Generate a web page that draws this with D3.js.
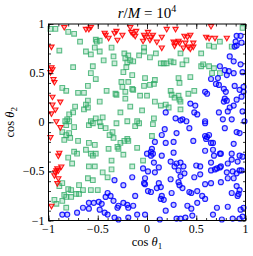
<!DOCTYPE html>
<html>
<head>
<meta charset="utf-8">
<script src="https://cdn.jsdelivr.net/npm/d3@7"></script>
<style>
  body { margin: 0; background: #fff; }
  text { font-family: "Liberation Serif", "DejaVu Serif", serif; }
</style>
</head>
<body>
<div id="chart"></div>
<script>
// cos theta1, cos theta2 pairs
var redPts = [
  [-0.84,0.97],[-0.62,0.95],[-0.57,0.97],[-0.59,0.95],[-0.43,0.91],[-0.39,0.86],[-0.42,0.89],[-0.33,0.91],
  [-0.30,0.84],[-0.97,0.77],[-0.97,0.56],[-0.96,0.54],[-0.98,0.51],[-0.95,0.44],[-0.94,0.41],[-0.96,0.26],
  [-0.88,0.21],[-0.96,0.18],[-0.93,0.13],[-0.97,0.09],[-0.92,0.01],[-0.88,-0.05],[-0.98,-0.15],[-0.89,-0.31],
  [-0.90,-0.34],[-0.87,-0.45],[-0.91,-0.47],[-0.92,-0.49],[-0.93,-0.51],[-0.94,-0.54],[-0.90,-0.49],[-0.90,-0.57],
  [-0.91,-0.62],[-0.97,-0.85],
  [-0.31,0.93],[-0.25,0.89],[-0.17,0.97],[-0.16,0.92],[-0.14,0.90],[-0.12,0.88],[-0.11,0.93],[-0.03,0.89],
  [-0.02,0.87],[0.01,0.92],[0.04,0.87],[0.06,0.89],[0.03,0.84],[-0.04,0.83],[0.10,0.82],[0.15,0.87],
  [0.15,0.76],[0.20,0.95],[0.29,0.95],[0.27,0.82],[0.28,0.78],[0.29,0.81],[0.32,0.83],
  [0.65,0.98],[0.38,0.88],[0.41,0.87],[0.44,0.89],[0.60,0.87],[0.63,0.86],[0.69,0.86],[0.33,0.81],
  [0.39,0.81],[0.47,0.81],[0.42,0.77],[0.44,0.75],[0.47,0.77],[0.37,0.76],[0.81,0.86]
];

var greenPts = [
  [-0.98,0.95],[-0.93,0.95],[-0.80,0.92],[-0.74,0.90],[-0.68,0.82],[-0.52,0.84],[-0.48,0.83],[-0.51,0.82],
  [-0.89,0.73],[-0.53,0.76],[-0.62,0.72],[-0.57,0.69],[-0.48,0.72],[-0.36,0.76],[-0.34,0.67],[-0.33,0.60],
  [-0.44,0.63],[-0.75,0.56],[-0.55,0.57],[-0.57,0.50],[-0.52,0.44],[-0.60,0.37],[-0.86,0.35],[-0.82,0.32],
  [-0.70,0.30],[-0.64,0.30],[-0.41,0.32],[-0.32,0.29],[-0.60,0.22],[-0.62,0.18],[-0.60,0.15],[-0.64,0.13],
  [-0.48,0.21],[-0.73,0.16],[-0.79,0.08],[-0.75,0.10],[-0.81,0.03],[-0.83,0.01],[-0.57,0.01],[-0.52,0.04],
  [-0.45,0.05],[-0.48,0.00],
  [-0.03,0.76],[-0.03,0.72],[-0.08,0.68],[-0.23,0.70],[-0.22,0.65],[-0.19,0.68],[-0.20,0.61],[-0.17,0.63],
  [-0.21,0.56],[-0.24,0.51],[-0.14,0.62],[0.03,0.66],[0.09,0.70],[0.14,0.60],[0.17,0.60],[0.20,0.60],
  [0.24,0.62],[0.27,0.61],[0.34,0.70],[-0.15,0.48],[-0.02,0.45],[-0.26,0.41],[-0.25,0.36],[-0.19,0.41],
  [-0.22,0.31],[-0.15,0.34],[-0.14,0.33],[-0.03,0.37],[0.03,0.38],[0.07,0.39],[0.08,0.43],[0.24,0.32],
  [0.25,0.28],[0.28,0.25],[0.32,0.27],[0.34,0.21],[-0.31,0.28],[-0.07,0.27],[0.00,0.27],[-0.22,0.24],
  [0.08,0.21],[0.14,0.17],[0.19,0.18],[-0.17,0.16],[-0.27,0.10],[-0.05,0.12],[0.22,0.15],[-0.20,0.01],
  [-0.10,0.01],[0.07,0.04],
  [0.97,0.96],[0.55,0.70],[0.63,0.78],[0.68,0.77],[0.74,0.82],[0.86,0.77],[0.40,0.63],[0.36,0.59],
  [0.55,0.57],[0.57,0.59],[0.63,0.57],[0.68,0.55],[0.66,0.50],[0.74,0.50],[0.32,0.45],[0.33,0.40],
  [0.44,0.46],[0.48,0.32],[0.42,0.29],[0.33,0.23],[0.34,0.13],
  [-0.79,0.01],[-0.82,-0.03],[-0.74,-0.05],[-0.59,-0.03],[-0.55,-0.01],[-0.47,-0.04],[-0.42,-0.06],[-0.38,-0.13],
  [-0.35,-0.10],[-0.86,-0.10],[-0.82,-0.13],[-0.79,-0.11],[-0.84,-0.18],[-0.78,-0.16],[-0.70,-0.19],[-0.59,-0.21],
  [-0.53,-0.23],[-0.74,-0.30],[-0.71,-0.32],[-0.62,-0.28],[-0.57,-0.32],[-0.52,-0.32],[-0.55,-0.34],[-0.39,-0.27],
  [-0.80,-0.36],[-0.76,-0.42],[-0.59,-0.45],[-0.53,-0.45],[-0.45,-0.51],[-0.40,-0.56],[-0.60,-0.57],[-0.55,-0.59],
  [-0.89,-0.65],[-0.86,-0.62],[-0.80,-0.68],[-0.77,-0.69],[-0.69,-0.64],[-0.65,-0.69],[-0.57,-0.69],[-0.50,-0.69],
  [-0.72,-0.73],[-0.69,-0.73],[-0.84,-0.74],[-0.82,-0.76],[-0.77,-0.76],[-0.94,-0.79],[-0.92,-0.83],[-0.86,-0.80],
  [-0.82,-0.87],
  [-0.31,-0.01],[-0.12,-0.04],[-0.08,-0.01],[0.06,-0.02],[-0.34,-0.16],[-0.30,-0.25],[-0.29,-0.27],[-0.27,-0.21],
  [-0.23,-0.19],[-0.20,-0.17],[-0.19,-0.19],[-0.10,-0.26],[-0.24,-0.33],[0.05,-0.14],[-0.04,-0.39],[-0.15,-0.45],
  [-0.36,-0.39],[-0.36,-0.48]
];

var bluePts = [
  [0.19,0.10],[0.29,0.04],[0.34,0.02],
  [0.91,0.88],[0.95,0.88],[0.90,0.82],[0.91,0.78],[0.89,0.77],[0.96,0.81],[0.84,0.67],[0.88,0.62],
  [0.95,0.59],[0.97,0.51],[0.74,0.57],[0.79,0.53],[0.83,0.52],[0.81,0.48],[0.88,0.50],[0.65,0.44],
  [0.72,0.45],[0.70,0.39],[0.73,0.38],[0.89,0.37],[0.94,0.33],[0.98,0.36],[0.98,0.31],[0.96,0.26],
  [0.59,0.31],[0.61,0.29],[0.78,0.34],[0.80,0.31],[0.79,0.24],[0.81,0.22],[0.78,0.21],[0.91,0.23],
  [0.44,0.19],[0.49,0.17],[0.88,0.17],[0.84,0.15],[0.82,0.11],[0.48,0.10],[0.51,0.08],[0.73,0.10],
  [0.36,0.03],[0.40,0.01],[0.59,0.01],[0.77,0.03],[0.86,0.03],[0.97,0.11],
  [-0.33,-0.59],[-0.40,-0.72],[-0.42,-0.76],[-0.37,-0.75],[-0.59,-0.82],[-0.54,-0.82],[-0.49,-0.81],[-0.46,-0.83],
  [-0.65,-0.87],[-0.59,-0.88],[-0.48,-0.89],[-0.43,-0.92],[-0.40,-0.94],[-0.86,-0.94],[-0.81,-0.94],[-0.33,-0.97],
  [-0.71,-0.92],
  [0.18,-0.07],[0.15,-0.13],[0.30,-0.11],[0.08,-0.20],[0.19,-0.21],[0.27,-0.20],[0.00,-0.32],[0.04,-0.30],
  [0.06,-0.32],[0.05,-0.27],[0.04,-0.34],[0.15,-0.34],[0.27,-0.31],[0.07,-0.41],[0.12,-0.46],[0.24,-0.40],
  [0.28,-0.45],[0.30,-0.42],[0.32,-0.49],[0.34,-0.41],[-0.04,-0.47],[0.01,-0.50],[0.08,-0.51],[-0.15,-0.56],
  [-0.02,-0.57],[-0.03,-0.62],[-0.02,-0.63],[-0.24,-0.64],[0.12,-0.62],[0.10,-0.67],[0.14,-0.66],[0.24,-0.58],
  [0.34,-0.55],[0.32,-0.61],[0.01,-0.70],[0.04,-0.71],[0.25,-0.72],[-0.12,-0.75],[0.14,-0.78],[0.17,-0.79],
  [0.15,-0.75],[-0.34,-0.80],[-0.29,-0.85],[-0.30,-0.87],[-0.24,-0.82],[-0.20,-0.84],[-0.19,-0.87],[-0.14,-0.85],
  [0.19,-0.90],[0.27,-0.84],[-0.29,-0.99],[-0.19,-0.97],[-0.10,-0.94],[-0.02,-0.94],[0.13,-0.99],[0.30,-0.98],
  [0.34,-0.98],
  [0.43,-0.06],[0.59,-0.01],[0.79,-0.06],[0.99,0.01],[0.91,-0.10],[0.94,-0.11],[0.47,-0.19],[0.59,-0.14],
  [0.61,-0.15],[0.63,-0.13],[0.60,-0.17],[0.65,-0.21],[0.67,-0.21],[0.59,-0.29],[0.67,-0.28],[0.68,-0.34],
  [0.74,-0.32],[0.75,-0.32],[0.88,-0.22],[0.86,-0.32],[0.97,-0.35],[0.37,-0.45],[0.50,-0.44],[0.54,-0.45],
  [0.65,-0.41],[0.65,-0.49],[0.69,-0.48],[0.71,-0.47],[0.74,-0.46],[0.75,-0.45],[0.82,-0.42],[0.86,-0.38],
  [0.92,-0.40],[0.94,-0.34],[0.81,-0.51],[0.87,-0.50],[0.91,-0.52],[0.94,-0.49],[0.96,-0.49],[0.38,-0.52],
  [0.48,-0.56],[0.54,-0.53],[0.82,-0.57],[0.88,-0.57],[0.75,-0.61],[0.33,-0.64],[0.36,-0.67],[0.59,-0.63],
  [0.65,-0.62],[0.91,-0.65],[0.94,-0.69],[0.92,-0.75],[0.93,-0.73],[0.43,-0.71],[0.45,-0.72],[0.51,-0.70],
  [0.56,-0.75],[0.59,-0.78],[0.86,-0.72],[0.51,-0.82],[0.41,-0.85],[0.45,-0.88],[0.71,-0.87],[0.82,-0.86],
  [0.95,-0.89],[0.98,-0.87],[0.46,-0.95],[0.67,-0.94],[0.39,-0.97],[0.76,-0.99],[0.87,-0.98],[0.94,-0.98],
  [0.97,-0.96]
];

var majorTicks = [-1, -0.5, 0, 0.5, 1];
var tickLabels = ['\u22121', '\u22120.5', '0', '0.5', '1'];
var minorTicks = d3.range(-10, 11).map(function(i) { return i / 10; });

var width = 253;
var height = 256;
var margin = { top: 24, right: 7.5, bottom: 35.5, left: 48.5 };
var w = width - margin.left - margin.right;
var h = height - margin.top - margin.bottom;

var svg = d3.select('#chart').append('svg')
  .attr('width', width)
  .attr('height', height);

var g = svg.append('g')
  .attr('transform', 'translate(' + margin.left + ',' + margin.top + ')');

var x = d3.scaleLinear().domain([-1, 1]).range([0, w]);
var y = d3.scaleLinear().domain([-1, 1]).range([h, 0]);

// points
var pts = g.append('g');

pts.selectAll('path.sq')
  .data(greenPts)
  .enter().append('path')
  .attr('class', 'sq')
  .attr('transform', function(d) { return 'translate(' + x(d[0]) + ',' + y(d[1]) + ')'; })
  .attr('d', d3.symbol().type(d3.symbolSquare).size(22))
  .attr('fill', 'rgba(60,179,113,0.25)')
  .attr('stroke', 'rgba(46,170,100,0.75)')
  .attr('stroke-width', 1.1);

pts.selectAll('path.tri')
  .data(redPts)
  .enter().append('path')
  .attr('class', 'tri')
  .attr('transform', function(d) { return 'translate(' + x(d[0]) + ',' + y(d[1]) + ') rotate(180)'; })
  .attr('d', d3.symbol().type(d3.symbolTriangle).size(12))
  .attr('fill', 'rgba(255,0,0,0.3)')
  .attr('stroke', 'rgba(255,0,0,0.9)')
  .attr('stroke-width', 1.1);

pts.selectAll('circle')
  .data(bluePts)
  .enter().append('circle')
  .attr('cx', function(d) { return x(d[0]); })
  .attr('cy', function(d) { return y(d[1]); })
  .attr('r', 2.5)
  .attr('fill', 'rgba(0,0,255,0.22)')
  .attr('stroke', 'rgba(0,0,255,0.85)')
  .attr('stroke-width', 1.2);

// frame and inward ticks on all sides
function tickAxis(axisFn, scale, vals, size, tr) {
  var a = g.append('g').attr('transform', tr)
    .call(axisFn(scale).tickValues(vals).tickSize(size).tickFormat(''));
  a.select('.domain').remove();
  a.selectAll('.tick line').attr('stroke', '#000').attr('stroke-width', 0.8);
  return a;
}
tickAxis(d3.axisTop, x, minorTicks, 2.5, 'translate(0,' + h + ')');
tickAxis(d3.axisTop, x, majorTicks, 5, 'translate(0,' + h + ')');
tickAxis(d3.axisBottom, x, minorTicks, 2.5, 'translate(0,0)');
tickAxis(d3.axisBottom, x, majorTicks, 5, 'translate(0,0)');
tickAxis(d3.axisRight, y, minorTicks, 2.5, 'translate(0,0)');
tickAxis(d3.axisRight, y, majorTicks, 5, 'translate(0,0)');
tickAxis(d3.axisLeft, y, minorTicks, 2.5, 'translate(' + w + ',0)');
tickAxis(d3.axisLeft, y, majorTicks, 5, 'translate(' + w + ',0)');

g.append('rect')
  .attr('width', w)
  .attr('height', h)
  .attr('fill', 'none')
  .attr('stroke', '#000')
  .attr('stroke-width', 1);

// tick labels
g.selectAll('text.xl')
  .data(majorTicks)
  .enter().append('text')
  .attr('class', 'xl')
  .attr('x', function(d) { return x(d); })
  .attr('y', h + 12.5)
  .attr('text-anchor', 'middle')
  .attr('font-size', 12)
  .text(function(d, i) { return tickLabels[i]; });

g.selectAll('text.yl')
  .data(majorTicks)
  .enter().append('text')
  .attr('class', 'yl')
  .attr('x', -4)
  .attr('y', function(d) { return y(d) + 4; })
  .attr('text-anchor', 'end')
  .attr('font-size', 12)
  .text(function(d, i) { return tickLabels[i]; });

// axis titles
var xt = svg.append('text')
  .attr('x', margin.left + w / 2)
  .attr('y', 246)
  .attr('text-anchor', 'middle')
  .attr('font-size', 12.5);
xt.append('tspan').text('cos ');
xt.append('tspan').attr('font-style', 'italic').text('\u03b8');
xt.append('tspan').attr('font-size', 9).attr('dy', 2.5).text('1');

var yt = svg.append('text')
  .attr('transform', 'translate(14,' + (margin.top + h / 2) + ') rotate(-90)')
  .attr('text-anchor', 'middle')
  .attr('font-size', 12.5);
yt.append('tspan').text('cos ');
yt.append('tspan').attr('font-style', 'italic').text('\u03b8');
yt.append('tspan').attr('font-size', 9).attr('dy', 2.5).text('2');

// title
var tt = svg.append('text')
  .attr('x', margin.left + w / 2)
  .attr('y', 18)
  .attr('text-anchor', 'middle')
  .attr('font-size', 15);
tt.append('tspan').attr('font-style', 'italic').text('r');
tt.append('tspan').text('/');
tt.append('tspan').attr('font-style', 'italic').text('M');
tt.append('tspan').text(' = 10');
tt.append('tspan').attr('font-size', 10).attr('dy', -6).text('4');
</script>
</body>
</html>
